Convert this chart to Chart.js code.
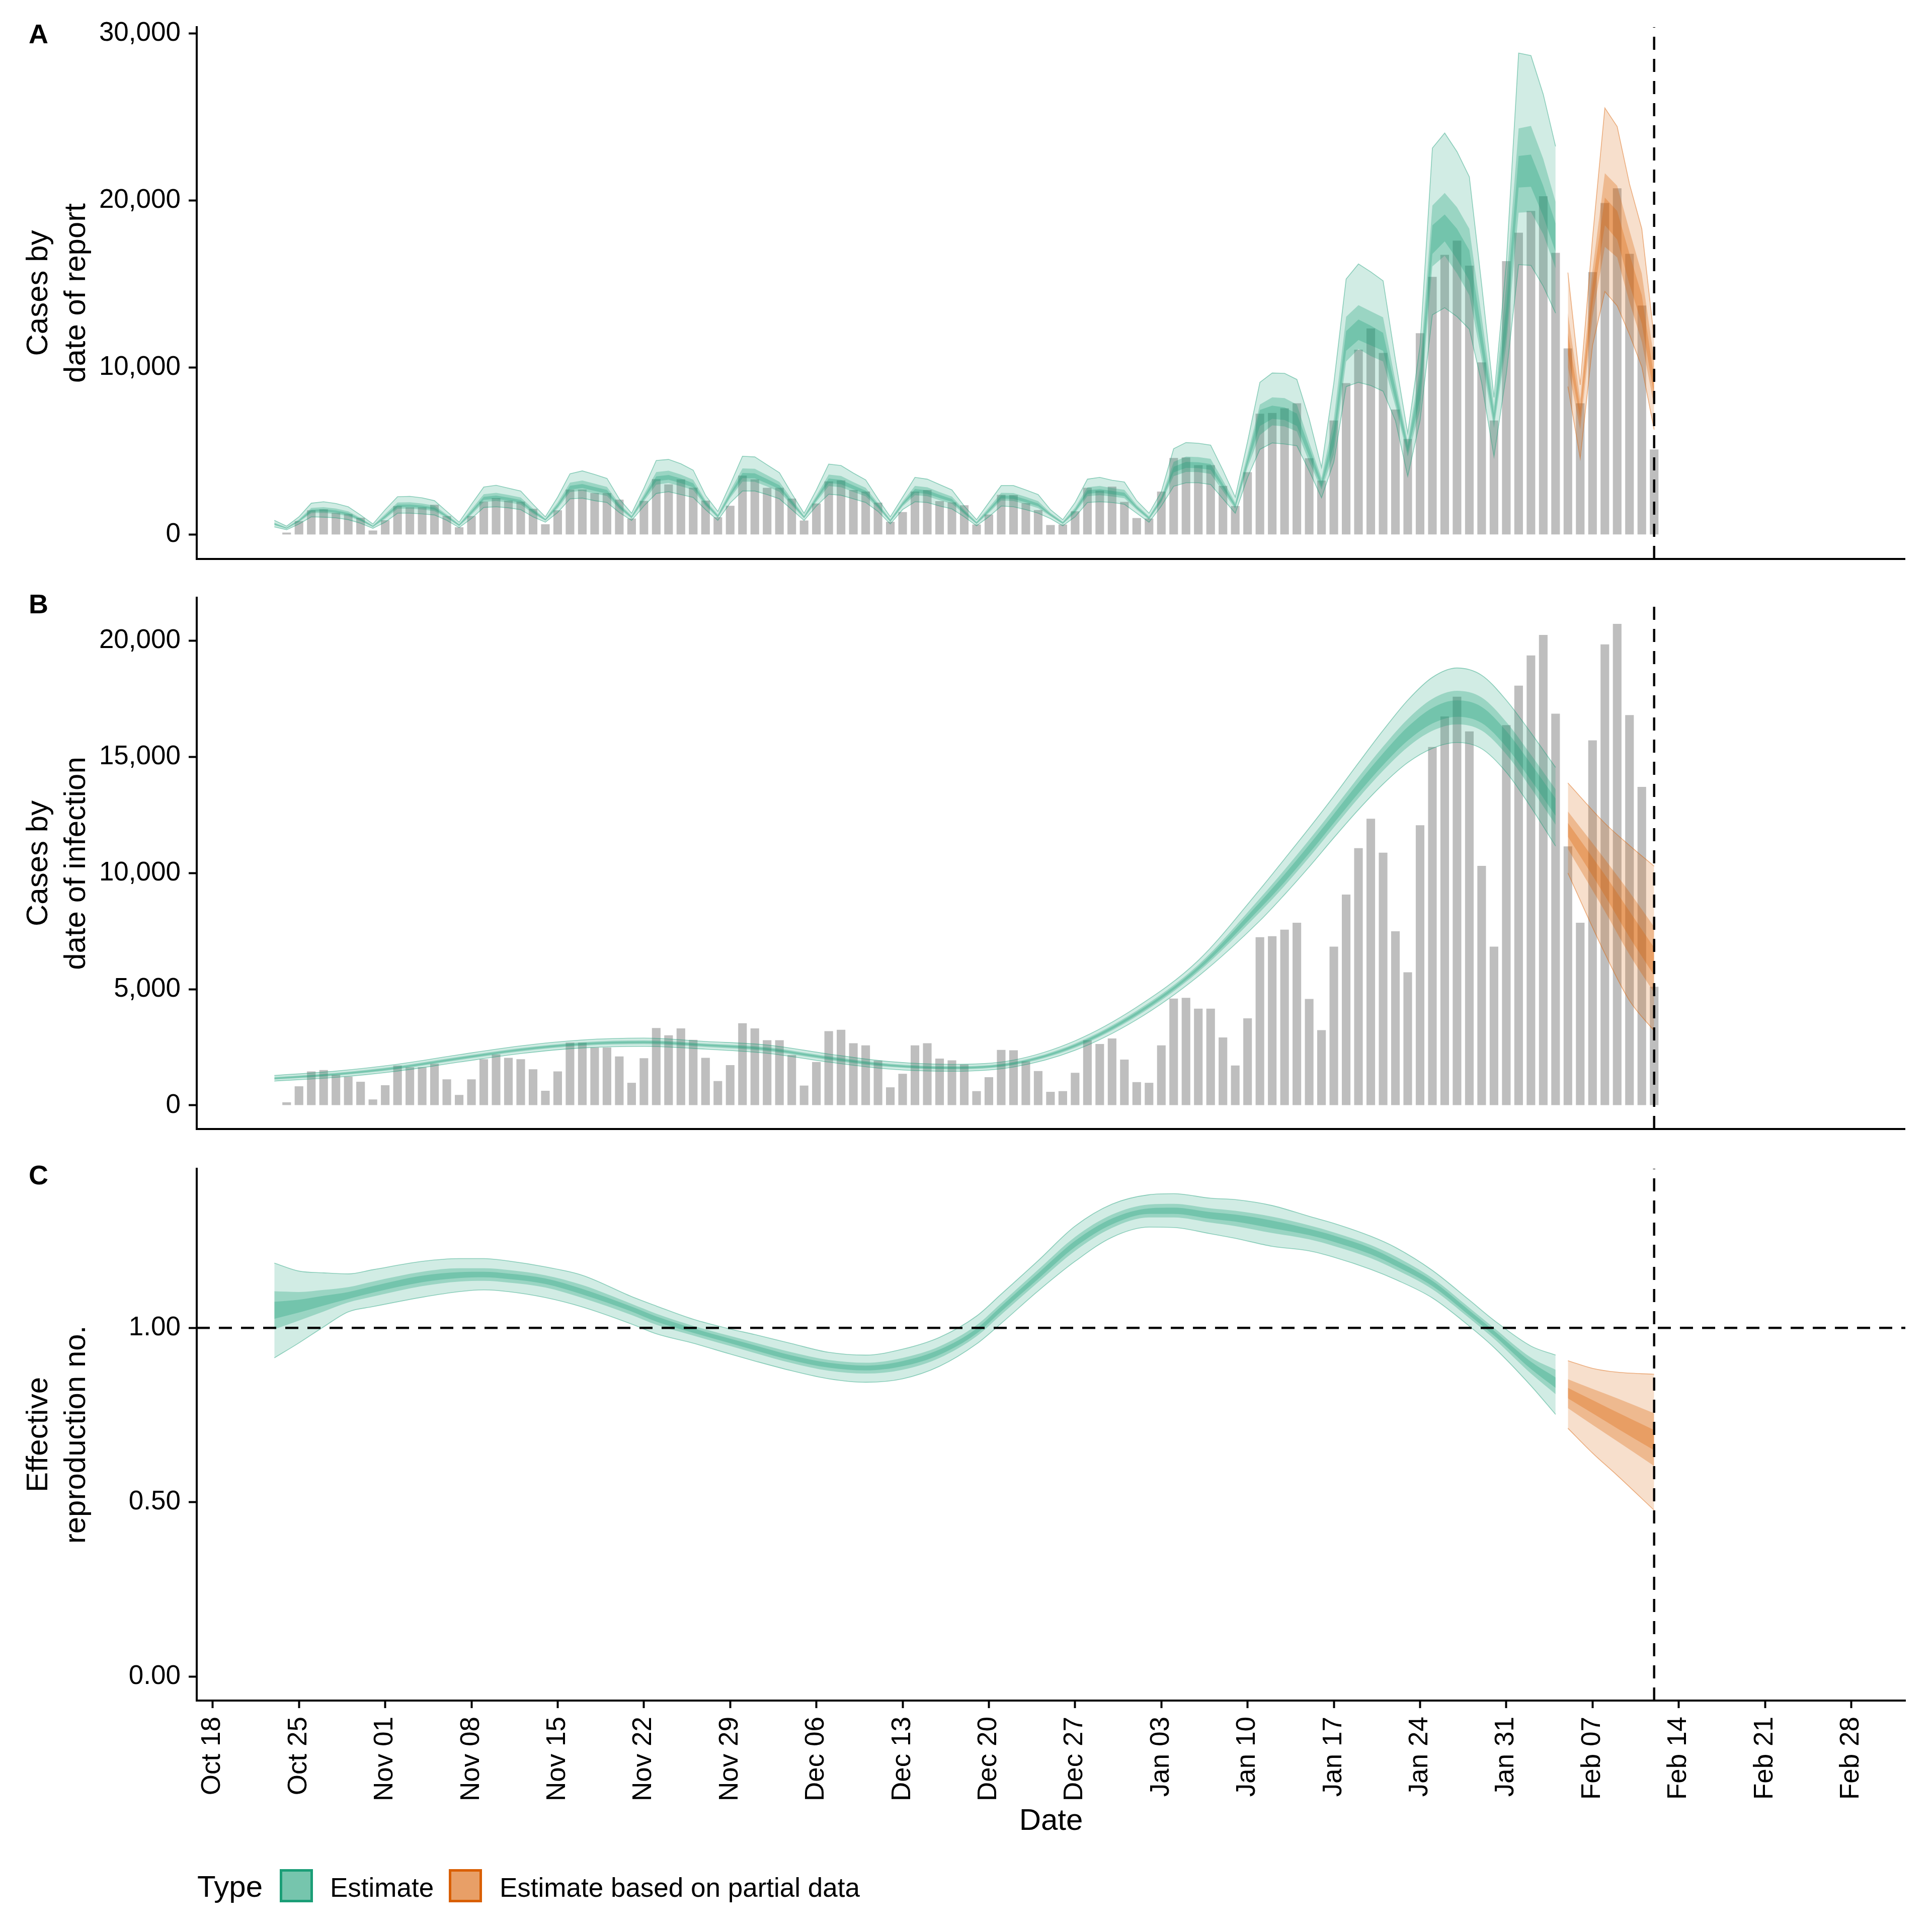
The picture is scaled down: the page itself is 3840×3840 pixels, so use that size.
<!DOCTYPE html>
<html>
<head>
<meta charset="utf-8">
<script src="https://cdn.jsdelivr.net/npm/chart.js@4.4.1/dist/chart.umd.min.js"></script>
<style>
  html, body { margin: 0; padding: 0; background: #ffffff; }
  #wrap { position: relative; width: 3840px; height: 3840px; background: #ffffff; overflow: hidden; }
  #wrap canvas { position: absolute; left: 0; }
</style>
</head>
<body>
<div id="wrap">
  <canvas id="cA" width="3840" height="1170" style="top:0px;width:3840px;height:1170px"></canvas>
  <canvas id="cB" width="3840" height="1180" style="top:1120px;width:3840px;height:1180px"></canvas>
  <canvas id="cC" width="3840" height="1580" style="top:2260px;width:3840px;height:1580px"></canvas>
</div>
<script>
// ---------------- DATA (day numbers count from 2020-10-18 = day 0) ----------------
const xTickDays   = [0, 7, 14, 21, 28, 35, 42, 49, 56, 63, 70, 77, 84, 91, 98, 105, 112, 119, 126, 133];
const xTickLabels = ['Oct 18','Oct 25','Nov 01','Nov 08','Nov 15','Nov 22','Nov 29','Dec 06','Dec 13','Dec 20',
                     'Dec 27','Jan 03','Jan 10','Jan 17','Jan 24','Jan 31','Feb 07','Feb 14','Feb 21','Feb 28'];
const dataCutoffDate = '2021-02-12';

// Reported cases (grey bars), daily from 2020-10-24 to 2021-02-12
const reportStart = '2020-10-24';
const reportedCases = [
  130, 820, 1463, 1522, 1313, 1239, 1015, 254, 866, 1716,
  1642, 1642, 1791, 1119, 448, 1119, 1985, 2194, 2045, 1985,
  1552, 627, 1463, 2701, 2701, 2492, 2492, 2104, 970, 2030,
  3328, 3015, 3313, 2820, 2045, 1045, 1731, 3537, 3313, 2806,
  2806, 2164, 851, 1866, 3194, 3254, 2672, 2582, 1925, 776,
  1358, 2582, 2672, 2015, 1940, 1761, 612, 1209, 2388, 2373,
  1895, 1478, 582, 612, 1403, 2806, 2642, 2881, 1970, 1000,
  970, 2582, 4597, 4627, 4164, 4164, 2925, 1716, 3746, 7239,
  7284, 7567, 7866, 4582, 3239, 6836, 9075, 11075, 12343, 10881,
  7493, 5731, 12060, 15433, 16746, 17597, 16104, 10313, 6836, 16373,
  18075, 19373, 20254, 16866, 11149, 7866, 15716, 19851, 20731, 16806,
  13716, 5104
];

// Panel A: cases by date of report, estimate (daily from 2020-10-23 to 2021-02-04)
const repEstStart = '2020-10-23';
const repU90 = [
  858, 515, 1073, 1888, 1974, 1867, 1674, 1180, 644, 1502,
  2275, 2296, 2210, 2039, 1395, 751, 1824, 2854, 2961, 2790,
  2618, 1824, 1073, 2253, 3648, 3820, 3605, 3369, 2146, 1288,
  2790, 4442, 4507, 4249, 3863, 2361, 1395, 3004, 4700, 4657,
  4185, 3713, 2468, 1288, 2683, 4228, 4142, 3691, 3283, 2146,
  1073, 2253, 3434, 3326, 3004, 2683, 1717, 901, 1931, 2940,
  2940, 2683, 2404, 1502, 901, 1931, 3326, 3434, 3262, 3155,
  2039, 1288, 2575, 5150, 5515, 5472, 5365, 3863, 2253, 5580,
  9121, 9678, 9657, 9292, 6932, 4034, 9078, 15301, 16202, 15730,
  15194, 10472, 6073, 11331, 23134, 24035, 22919, 21417, 14979, 8219,
  16267, 28821, 28671, 26353, 23241
];
const repU50 = [
  723, 440, 923, 1603, 1651, 1567, 1403, 1007, 554, 1239,
  1930, 1943, 1872, 1738, 1207, 638, 1524, 2426, 2511, 2377,
  2227, 1561, 960, 1930, 3122, 3249, 3057, 2866, 1860, 1138,
  2414, 3751, 3831, 3603, 3292, 2060, 1207, 2618, 3971, 3943,
  3562, 3165, 2130, 1138, 2345, 3597, 3519, 3150, 2810, 1883,
  923, 1990, 2923, 2838, 2554, 2285, 1492, 774, 1631, 2512,
  2497, 2270, 2013, 1314, 774, 1631, 2838, 2923, 2796, 2689,
  1776, 1100, 2275, 4361, 4674, 4646, 4539, 3262, 1915, 4829,
  7790, 8219, 8176, 7790, 5537, 3391, 6932, 13048, 13734, 13370,
  13005, 9185, 5537, 10043, 19700, 20451, 19593, 18305, 13048, 7683,
  14979, 24314, 24464, 22490, 19915
];
const repU20 = [
  673, 412, 867, 1497, 1531, 1455, 1303, 943, 520, 1142,
  1801, 1812, 1747, 1627, 1137, 596, 1412, 2267, 2343, 2224,
  2082, 1464, 918, 1810, 2927, 3037, 2853, 2679, 1754, 1082,
  2275, 3494, 3580, 3363, 3080, 1949, 1137, 2474, 3701, 3678,
  3330, 2961, 2004, 1082, 2219, 3363, 3287, 2949, 2634, 1786,
  867, 1893, 2733, 2656, 2386, 2137, 1408, 726, 1519, 2353,
  2332, 2116, 1868, 1245, 726, 1519, 2656, 2733, 2623, 2516,
  1679, 1030, 2163, 4069, 4362, 4339, 4232, 3039, 1790, 4550,
  7468, 7726, 7618, 7253, 5215, 3176, 6288, 12189, 12876, 12511,
  12082, 8756, 5322, 9400, 18520, 19164, 18305, 17018, 12189, 7253,
  13691, 22662, 22748, 20881, 18627
];
const repL20 = [
  615, 380, 803, 1375, 1393, 1326, 1187, 869, 481, 1029,
  1653, 1661, 1602, 1498, 1057, 548, 1283, 2084, 2150, 2047,
  1915, 1351, 870, 1672, 2702, 2792, 2618, 2463, 1632, 1017,
  2114, 3198, 3290, 3087, 2835, 1820, 1057, 2308, 3388, 3372,
  3063, 2726, 1859, 1017, 2074, 3092, 3020, 2718, 2431, 1673,
  803, 1780, 2514, 2447, 2193, 1966, 1311, 672, 1390, 2170,
  2142, 1939, 1701, 1164, 672, 1390, 2447, 2514, 2423, 2316,
  1566, 950, 2034, 3731, 4001, 3985, 3878, 2781, 1645, 4228,
  6502, 6932, 6867, 6502, 4678, 2854, 5322, 11009, 11653, 11331,
  11009, 8005, 4893, 8112, 16803, 17554, 16481, 15194, 11009, 6717,
  11975, 20773, 20816, 19056, 16910
];
const repL50 = [
  576, 358, 760, 1293, 1301, 1241, 1110, 820, 456, 954,
  1554, 1560, 1506, 1412, 1003, 516, 1198, 1961, 2021, 1929,
  1803, 1276, 838, 1579, 2552, 2629, 2462, 2319, 1550, 974,
  2007, 3001, 3097, 2902, 2672, 1734, 1003, 2198, 3180, 3169,
  2885, 2569, 1763, 974, 1978, 2912, 2842, 2563, 2296, 1598,
  760, 1705, 2368, 2308, 2064, 1852, 1247, 635, 1305, 2047,
  2016, 1821, 1589, 1111, 635, 1305, 2308, 2368, 2290, 2183,
  1491, 896, 1949, 3505, 3761, 3749, 3641, 2610, 1549, 4013,
  5966, 6545, 6481, 6180, 4356, 2704, 4786, 10365, 11116, 10687,
  10365, 7683, 4678, 7468, 16052, 16696, 15623, 14335, 10472, 6395,
  11331, 19271, 19314, 17983, 15945
];
const repL90 = [
  472, 300, 644, 1073, 1052, 1009, 901, 687, 386, 751,
  1288, 1288, 1245, 1180, 858, 429, 966, 1631, 1674, 1610,
  1502, 1073, 751, 1330, 2146, 2189, 2039, 1931, 1330, 858,
  1717, 2468, 2575, 2404, 2232, 1502, 858, 1900, 2618, 2618,
  2404, 2146, 1502, 858, 1717, 2425, 2361, 2146, 1931, 1395,
  644, 1502, 1974, 1931, 1717, 1545, 1073, 537, 1073, 1717,
  1674, 1502, 1288, 966, 537, 1073, 1931, 1974, 1931, 1824,
  1288, 751, 1717, 2897, 3112, 3112, 3004, 2146, 1288, 3434,
  5107, 5494, 5429, 5322, 3820, 2210, 4356, 8863, 9121, 8927,
  8584, 6824, 3498, 6824, 13155, 13584, 13048, 12297, 9078, 4678,
  9614, 16159, 16116, 14872, 13262
];
// Panel A: estimate based on partial data (daily from 2021-02-05 to 2021-02-12)
const repPartialStart = '2021-02-05';
const repPU90 = [15687, 8970, 17769, 25537, 24421, 20988, 18305, 11760];
const repPU50 = [13262, 8112, 15837, 21632, 20881, 18198, 15623, 10472];
const repPU20 = [12082, 7575, 14979, 20172, 19378, 16803, 14335, 9399];
const repPL20 = [10794, 6932, 13799, 18520, 17662, 14979, 12618, 8326];
const repPL50 = [10043, 6288, 13048, 17232, 16589, 13906, 11545, 7683];
const repPL90 = [8863, 4571, 11331, 14550, 13691, 11975, 10043, 6288];

// Panel B: cases by date of infection (smooth), sampled days
const infDays = [5, 10, 15, 20, 25, 30, 35, 40, 45, 50, 55, 60, 65, 70, 75, 80, 85, 87, 89, 91, 93, 95, 97, 99, 101, 103, 105, 107, 109];
const infU90 = [1284, 1475, 1770, 2180, 2560, 2815, 2895, 2750, 2600, 2210, 1880, 1765, 1950, 2780, 4230, 6240, 9300, 10612, 11940, 13313, 14746, 16149, 17447, 18432, 18835, 18522, 17447, 16044, 14552];
const infU50 = [1216, 1401, 1688, 2092, 2469, 2719, 2797, 2662, 2501, 2114, 1792, 1683, 1868, 2665, 4076, 6053, 8915, 10144, 11431, 12771, 14138, 15451, 16635, 17505, 17850, 17562, 16511, 15100, 13608];
const infU20 = [1187, 1370, 1653, 2055, 2431, 2679, 2755, 2625, 2460, 2074, 1755, 1648, 1833, 2616, 4012, 5975, 8754, 9948, 11219, 12545, 13884, 15159, 16295, 17117, 17438, 17160, 16120, 14706, 13214];
const infL20 = [1135, 1310, 1588, 1985, 2359, 2603, 2677, 2553, 2380, 1996, 1685, 1582, 1767, 2526, 3893, 5825, 8469, 9610, 10851, 12151, 13441, 14650, 15704, 16444, 16732, 16464, 15437, 14000, 12468];
const infL50 = [1108, 1279, 1555, 1948, 2321, 2564, 2637, 2514, 2339, 1956, 1648, 1548, 1733, 2480, 3833, 5747, 8320, 9452, 10679, 11965, 13231, 14410, 15426, 16128, 16406, 16138, 15115, 13657, 12084];
const infL90 = [1045, 1205, 1475, 1860, 2230, 2470, 2540, 2420, 2240, 1860, 1560, 1465, 1650, 2370, 3690, 5560, 7950, 9074, 10268, 11522, 12731, 13835, 14761, 15373, 15627, 15358, 14343, 12836, 11164];
const infPDays = [110, 113, 115, 117];
const infPU90 = [13880, 12149, 11194, 10298];
const infPU50 = [12656, 10597, 9179, 7686];
const infPU20 = [12164, 9925, 8358, 6791];
const infPL20 = [11567, 9030, 7239, 5597];
const infPL50 = [11045, 8358, 6492, 4851];
const infPL90 = [10000, 6537, 4507, 3209];

// Panel C: effective reproduction number, sampled days
const rtDays = [5, 7, 9, 11, 13, 17, 20, 22, 24, 27, 30, 34, 36, 39, 42, 44, 47, 50, 53, 56, 59, 62, 64, 67, 70, 73, 76, 78, 81, 83, 86, 89, 91, 94, 96, 99, 102, 104, 107, 109];
const rtU90 = [1.186, 1.163, 1.158, 1.155, 1.167, 1.191, 1.199, 1.199, 1.192, 1.175, 1.151, 1.090, 1.063, 1.025, 0.997, 0.981, 0.955, 0.930, 0.922, 0.939, 0.973, 1.034, 1.097, 1.193, 1.292, 1.355, 1.382, 1.385, 1.372, 1.368, 1.351, 1.320, 1.300, 1.263, 1.231, 1.165, 1.080, 1.022, 0.948, 0.922];
const rtU50 = [1.105, 1.103, 1.109, 1.117, 1.133, 1.161, 1.171, 1.171, 1.166, 1.151, 1.123, 1.069, 1.041, 1.006, 0.977, 0.958, 0.930, 0.908, 0.900, 0.914, 0.947, 1.008, 1.071, 1.167, 1.261, 1.325, 1.354, 1.356, 1.343, 1.336, 1.319, 1.294, 1.274, 1.238, 1.205, 1.143, 1.058, 1.000, 0.915, 0.880];
const rtU20 = [1.075, 1.081, 1.092, 1.103, 1.120, 1.150, 1.160, 1.161, 1.156, 1.142, 1.112, 1.061, 1.033, 0.999, 0.969, 0.950, 0.921, 0.900, 0.892, 0.905, 0.938, 0.998, 1.062, 1.157, 1.250, 1.314, 1.343, 1.345, 1.332, 1.325, 1.308, 1.284, 1.265, 1.229, 1.195, 1.135, 1.050, 0.992, 0.903, 0.858];
const rtL20 = [1.026, 1.044, 1.064, 1.083, 1.101, 1.131, 1.143, 1.145, 1.140, 1.126, 1.096, 1.047, 1.018, 0.986, 0.956, 0.936, 0.907, 0.886, 0.878, 0.890, 0.923, 0.984, 1.047, 1.140, 1.232, 1.297, 1.327, 1.327, 1.313, 1.305, 1.286, 1.266, 1.247, 1.211, 1.178, 1.120, 1.036, 0.978, 0.882, 0.828];
const rtL50 = [0.996, 1.021, 1.047, 1.073, 1.090, 1.120, 1.133, 1.135, 1.130, 1.116, 1.086, 1.037, 1.009, 0.978, 0.948, 0.928, 0.899, 0.877, 0.869, 0.880, 0.914, 0.976, 1.038, 1.131, 1.221, 1.287, 1.317, 1.317, 1.302, 1.292, 1.272, 1.254, 1.235, 1.200, 1.168, 1.111, 1.028, 0.969, 0.869, 0.810];
const rtL90 = [0.914, 0.957, 1.003, 1.046, 1.061, 1.088, 1.104, 1.109, 1.104, 1.087, 1.060, 1.011, 0.983, 0.956, 0.925, 0.905, 0.877, 0.854, 0.844, 0.854, 0.890, 0.954, 1.013, 1.106, 1.191, 1.260, 1.289, 1.288, 1.270, 1.257, 1.234, 1.221, 1.203, 1.168, 1.139, 1.086, 1.005, 0.944, 0.834, 0.752];
const rtPDays = [110, 112, 114, 117];
const rtPU90 = [0.906, 0.884, 0.873, 0.867];
const rtPU50 = [0.853, 0.825, 0.798, 0.755];
const rtPU20 = [0.828, 0.793, 0.758, 0.707];
const rtPL20 = [0.798, 0.755, 0.712, 0.649];
const rtPL50 = [0.770, 0.722, 0.675, 0.604];
const rtPL90 = [0.712, 0.641, 0.577, 0.477];
const rtReference = 1;

// y-axis ticks
const yTicksA = [0, 10000, 20000, 30000];
const yTickLabelsA = ['0', '10,000', '20,000', '30,000'];
const yTicksB = [0, 5000, 10000, 15000, 20000];
const yTickLabelsB = ['0', '5,000', '10,000', '15,000', '20,000'];
const yTicksC = [0, 0.5, 1.0];
const yTickLabelsC = ['0.00', '0.50', '1.00'];

// ---------------- STYLE / LAYOUT ----------------
const FONT = '"Liberation Sans", Arial, Helvetica, sans-serif';
const GREEN = '27,158,119';
const ORANGE = '217,95,2';
const X_MIN = -1.30, X_MAX = 137.39;
const Y_A = [-1450, 30370], Y_B = [-1020, 21860], Y_C = [-0.0689, 1.4565];

const ORIGIN = Date.UTC(2020, 9, 18);
function dayOf(iso) { return Math.round((Date.parse(iso + 'T00:00:00Z') - ORIGIN) / 86400000); }
function consecutive(startIso, n) { const s = dayOf(startIso); return Array.from({length: n}, (_, i) => s + i); }

function bandSets(days, hi, lo, rgb, alpha, edge, curved) {
  const pts = arr => days.map((d, i) => ({x: d, y: arr[i]}));
  const common = {
    type: 'line', pointRadius: 0, pointHoverRadius: 0, order: 1, tension: 0,
    cubicInterpolationMode: curved ? 'monotone' : 'default',
    borderColor: edge ? `rgba(${rgb},0.45)` : 'rgba(0,0,0,0)', borderWidth: edge ? 1.6 : 0
  };
  return [
    Object.assign({}, common, {data: pts(hi), fill: '+1', backgroundColor: `rgba(${rgb},${alpha})`}),
    Object.assign({}, common, {data: pts(lo), fill: false, backgroundColor: 'rgba(0,0,0,0)'})
  ];
}
function fanSets(days, u90, u50, u20, l20, l50, l90, rgb, curved) {
  return [].concat(
    bandSets(days, u90, l90, rgb, 0.2, true, curved),
    bandSets(days, u50, l50, rgb, 0.3, false, curved),
    bandSets(days, u20, l20, rgb, 0.3, false, curved)
  );
}
function barSet() {
  const days = consecutive(reportStart, reportedCases.length);
  return {
    type: 'bar', data: days.map((d, i) => ({x: d, y: reportedCases[i]})),
    backgroundColor: '#bebebe', borderWidth: 0, barPercentage: 0.7, categoryPercentage: 1.0,
    grouped: false, order: 2
  };
}
function dashed(points) {
  return {type: 'line', data: points, borderColor: '#000', borderWidth: 4.5, borderDash: [26, 18],
          pointRadius: 0, fill: false, order: 0, tension: 0};
}
function yScale(lim, vals, labels, title) {
  return {
    type: 'linear', position: 'left', min: lim[0], max: lim[1],
    afterBuildTicks: s => { s.ticks = vals.map(v => ({value: v})); },
    afterFit: s => { s.width = 391; },
    ticks: {callback: (v, i) => labels[i], font: {family: FONT, size: 53}, color: '#000', padding: 16, autoSkip: false},
    grid: {display: true, drawOnChartArea: false, drawTicks: true, tickLength: 16, tickWidth: 4, tickColor: '#000'},
    border: {display: true, color: '#000', width: 4},
    title: {display: true, text: title, color: '#000', font: {family: FONT, size: 60, lineHeight: 1.25}, padding: {top: 40, bottom: 0}}
  };
}
function xHidden() {
  return {type: 'linear', position: 'bottom', min: X_MIN, max: X_MAX, offset: false, display: false};
}
function xShown() {
  return {
    type: 'linear', position: 'bottom', min: X_MIN, max: X_MAX, offset: false,
    afterBuildTicks: s => { s.ticks = xTickDays.map(v => ({value: v})); },
    afterFit: s => { s.height = 276; },
    ticks: {callback: (v, i) => xTickLabels[i], font: {family: FONT, size: 53}, color: '#000', padding: 17,
            minRotation: 90, maxRotation: 90, autoSkip: false},
    grid: {display: true, drawOnChartArea: false, drawTicks: true, tickLength: 15, tickWidth: 4, tickColor: '#000'},
    border: {display: true, color: '#000', width: 4},
    title: {display: true, text: 'Date', color: '#000', font: {family: FONT, size: 60, lineHeight: 1.2}, padding: {top: 0, bottom: 0}}
  };
}
function decor(letter, letterY, legend, drawBottomAxis) {
  return {
    id: 'decor' + letter,
    afterDraw(chart) {
      const ctx = chart.ctx;
      const area = chart.chartArea;
      ctx.save();
      if (drawBottomAxis) {
        ctx.strokeStyle = '#000'; ctx.lineWidth = 4;
        ctx.beginPath(); ctx.moveTo(area.left - 2, area.bottom); ctx.lineTo(area.right, area.bottom); ctx.stroke();
      }
      ctx.fillStyle = '#000'; ctx.textAlign = 'left'; ctx.textBaseline = 'alphabetic';
      ctx.font = `bold 54px ${FONT}`;
      ctx.fillText(letter, 57, letterY);
      if (legend) {
        ctx.font = `60px ${FONT}`;
        ctx.fillText(legend.title, legend.titleX, legend.baseline);
        ctx.font = `53px ${FONT}`;
        legend.items.forEach(it => {
          ctx.fillStyle = it.fill;
          ctx.fillRect(it.keyX, legend.keyY, legend.keySize, legend.keySize);
          ctx.strokeStyle = it.stroke; ctx.lineWidth = 5;
          ctx.strokeRect(it.keyX + 2.5, legend.keyY + 2.5, legend.keySize - 5, legend.keySize - 5);
          ctx.fillStyle = '#000';
          ctx.fillText(it.label, it.textX, legend.baseline);
        });
      }
      ctx.restore();
    }
  };
}
function make(id, datasets, x, y, padding, plugin) {
  return new Chart(document.getElementById(id), {
    type: 'line',
    data: {datasets},
    options: {
      responsive: false, maintainAspectRatio: false, animation: false, devicePixelRatio: 1, events: [],
      layout: {padding},
      plugins: {legend: {display: false}, tooltip: {enabled: false}},
      scales: {x, y}
    },
    plugins: [plugin]
  });
}

const cutoff = dayOf(dataCutoffDate);

// Panel A  (canvas top 0; plot area 54 -> 1111)
const repDays = consecutive(repEstStart, repU90.length);
const repPDays = consecutive(repPartialStart, repPU90.length);
make('cA',
  [].concat(
    [dashed([{x: cutoff, y: Y_A[0]}, {x: cutoff, y: Y_A[1]}])],
    fanSets(repDays, repU90, repU50, repU20, repL20, repL50, repL90, GREEN, false),
    fanSets(repPDays, repPU90, repPU50, repPU20, repPL20, repPL50, repPL90, ORANGE, false),
    [barSet()]
  ),
  xHidden(), yScale(Y_A, yTicksA, yTickLabelsA, ['Cases by', 'date of report']),
  {top: 54, bottom: 59, left: 0, right: 53}, decor('A', 86, null, true));

// Panel B  (canvas top 1120; plot area 1188 -> 2244)
make('cB',
  [].concat(
    [dashed([{x: cutoff, y: Y_B[0]}, {x: cutoff, y: Y_B[1]}])],
    fanSets(infDays, infU90, infU50, infU20, infL20, infL50, infL90, GREEN, true),
    fanSets(infPDays, infPU90, infPU50, infPU20, infPL20, infPL50, infPL90, ORANGE, true),
    [barSet()]
  ),
  xHidden(), yScale(Y_B, yTicksB, yTickLabelsB, ['Cases by', 'date of infection']),
  {top: 68, bottom: 56, left: 0, right: 53}, decor('B', 98.5, null, true));

// Panel C  (canvas top 2260; plot area 2323 -> 3380)
make('cC',
  [].concat(
    [dashed([{x: cutoff, y: Y_C[0]}, {x: cutoff, y: Y_C[1]}]),
     dashed([{x: X_MIN, y: rtReference}, {x: X_MAX, y: rtReference}])],
    fanSets(rtDays, rtU90, rtU50, rtU20, rtL20, rtL50, rtL90, GREEN, true),
    fanSets(rtPDays, rtPU90, rtPU50, rtPU20, rtPL20, rtPL50, rtPL90, ORANGE, true)
  ),
  xShown(), yScale(Y_C, yTicksC, yTickLabelsC, ['Effective', 'reproduction no.']),
  {top: 63, bottom: 184, left: 0, right: 53},
  decor('C', 94, {
    title: 'Type', titleX: 392, baseline: 1510, keyY: 1455, keySize: 66,
    items: [
      {label: 'Estimate', keyX: 556, textX: 656, fill: `rgba(${GREEN},0.6)`, stroke: `rgb(${GREEN})`},
      {label: 'Estimate based on partial data', keyX: 892, textX: 993, fill: `rgba(${ORANGE},0.6)`, stroke: `rgb(${ORANGE})`}
    ]
  }, false));
</script>
</body>
</html>
